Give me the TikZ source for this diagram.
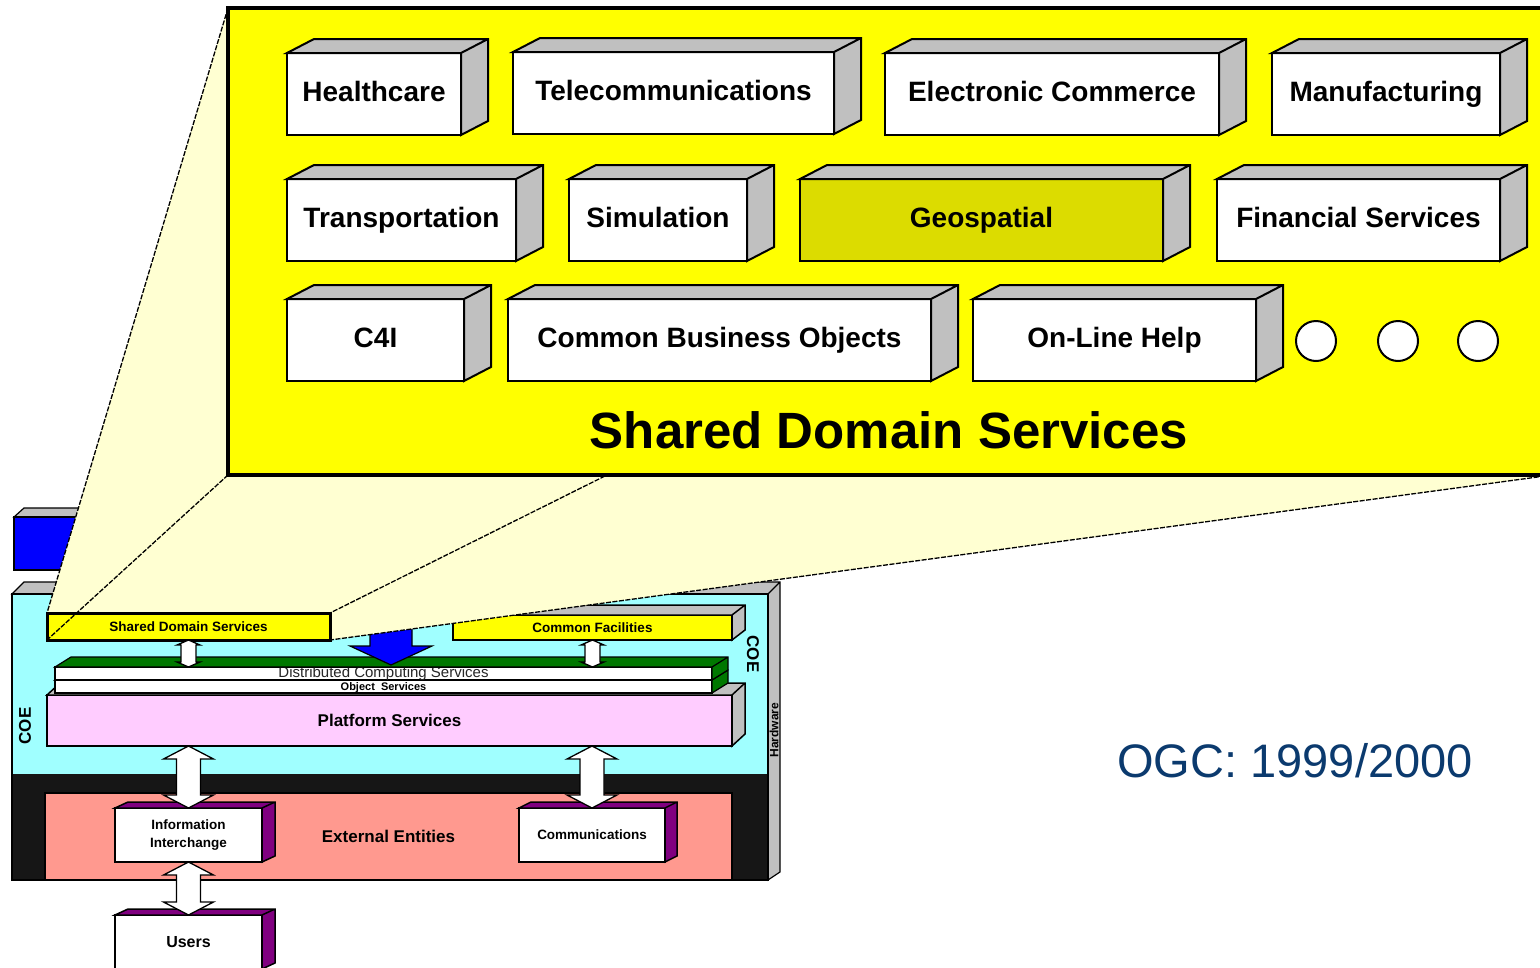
\documentclass[tikz,border=0pt]{standalone}
\usepackage{fontspec}
\setmainfont{Liberation Sans}
\usetikzlibrary{calc}
\definecolor{panel}{HTML}{FFFF00}
\definecolor{zoomfill}{HTML}{FFFFD2}
\definecolor{slabgrey}{HTML}{C0C0C0}
\definecolor{geofill}{HTML}{DCDC00}
\definecolor{coe}{HTML}{A0FFFF}
\definecolor{platform}{HTML}{FFCCFF}
\definecolor{external}{HTML}{FF998F}
\definecolor{hardware}{HTML}{161616}
\definecolor{dcsgreen}{HTML}{007800}
\definecolor{plum}{HTML}{800080}
\definecolor{ogc}{HTML}{0B3A6E}

% top and right faces of a box node: node, depth, colour
\newcommand{\slabfaces}[4][]{\draw[fill=#4,#1] (#2.north west) -- ++(#3) -| ([shift={(#3)}]#2.south east) -- (#2.south east) -- (#2.north east) -- cycle (#2.north east) -- ++(#3);}
% vertical block arrow with a head at each end
\newcommand{\twoway}[5]{\draw[fill=white,line width=1.3pt] (#1) -- ($(#1)+(-#4,#5)$) -- ($(#1)+(-#3,#5)$) -- ($(#2)+(-#3,-#5)$) -- ($(#2)+(-#4,-#5)$) -- (#2) -- ($(#2)+(#4,-#5)$) -- ($(#2)+(#3,-#5)$) -- ($(#1)+(#3,#5)$) -- ($(#1)+(#4,#5)$) -- cycle;}

\begin{document}
\begin{tikzpicture}[x=1pt,y=-1pt,line join=miter,
  tile/.style={draw,fill=white,line width=2pt,minimum height=82,inner sep=0pt,outer sep=0pt,text height=20,text depth=6,font=\fontsize{28}{32}\selectfont\bfseries},
  slab/.style={draw,line width=1.5pt,inner sep=0pt,outer sep=0pt},
  tag/.style={font=\fontsize{#1}{18}\selectfont\bfseries},
  zoomline/.style={line width=1.3pt,dash pattern=on 5pt off 1.5pt}]
\clip (0,0) rectangle (1540,967);

% blue slab behind the zoom cone
\draw[fill=slabgrey,line width=1.2pt] (14,517) -- (24,508) -- (120,508) -- (120,517) -- cycle;
\draw[fill=blue,line width=1.2pt] (14,517) rectangle (120,570);

% COE cabinet with hardware side
\draw[fill=slabgrey,line width=1.2pt] (12,594) -- (24,582) -- (780,582) -- (780,872) -- (768,880) -- (768,594) -- cycle (768,594) -- (780,582);
\fill[coe] (12,594) rectangle (768,774);
\fill[hardware] (12,774) rectangle (768,880);
\draw[line width=1.2pt] (12,594) rectangle (768,880);
\node[tag=17,rotate=90] (coeL) at (25,726) {COE};
\node[tag=17,rotate=-90] (coeR) at (753,654) {COE};
\node[tag=12,rotate=90] (hw) at (774,730) {Hardware};

% external entities
\node[slab,fill=external,minimum width=687,minimum height=87,tag=17] (ext) at (388.5,836.5) {External Entities};
\node[slab,fill=white,minimum width=147,minimum height=54,tag=13.5,align=center] (info) at (188.5,835) {Information\\Interchange};
\slabfaces[line width=1.5pt]{info}{13,-6}{plum}
\node[slab,fill=white,minimum width=146,minimum height=54,tag=13.5] (comm) at (592,835) {Communications};
\slabfaces[line width=1.5pt]{comm}{12,-6}{plum}
\node[slab,fill=white,minimum width=147,minimum height=54,tag=16] (users) at (188.5,942) {Users};
\slabfaces[line width=1.5pt]{users}{13,-6}{plum}

% platform, object and distributed computing layers
\node[slab,fill=platform,minimum width=685,minimum height=51,tag=17] (plat) at (389.5,720.5) {Platform Services};
\slabfaces[line width=1.5pt]{plat}{13,-12}{slabgrey}
\node[slab,fill=white,minimum width=657,minimum height=13,text height=8,text depth=1,tag=11] (obj) at (383.5,686.5) {Object\ \ Services};
\slabfaces[line width=1.2pt]{obj}{16,-10}{dcsgreen}
\node[slab,fill=white,minimum width=657,minimum height=13,text height=9.5,text depth=1.5,font=\fontsize{15}{15}\selectfont,text=black!85] (dcs) at (383.5,673.5) {Distributed Computing Services};
\slabfaces[line width=1.2pt]{dcs}{16,-10}{dcsgreen}

% common facilities
\node[slab,fill=panel,minimum width=279,minimum height=25,tag=13.5] (cf) at (592.5,627.5) {Common Facilities};
\slabfaces[line width=1.5pt]{cf}{13,-10}{slabgrey}

% blue arrow coming down from the zoom
\draw[fill=blue,line width=1.2pt] (370,600) -- (370,646) -- (350,646) -- (391,665) -- (432,646) -- (412,646) -- (412,600);

% two-way arrows
\coordinate (pi) at (plat.south -| info.north);
\coordinate (pc) at (plat.south -| comm.north);
\twoway{pi}{info.north}{12}{25}{13}
\twoway{pc}{comm.north}{12}{25}{13}
\twoway{info.south}{users.north}{12}{25}{13}

% zoom cone
\fill[zoomfill] (228,8) -- (47,613) -- (47,640) -- (330,640) -- (1545,476) -- (1545,8) -- cycle;
\node[draw,fill=panel,line width=3pt,minimum width=283,minimum height=27,inner sep=0pt,outer sep=0pt,tag=13.5] (sdsmini) at (188.5,626.5) {Shared Domain Services};
\coordinate (ds) at (dcs.north -| sdsmini.south);
\coordinate (dc) at (dcs.north -| cf.south);
\twoway{sdsmini.south}{ds}{7.5}{11.5}{5}
\twoway{cf.south}{dc}{7.5}{11.5}{5}
\coordinate (pnw) at (228,8);
\coordinate (psw) at (228,475);
\draw[zoomline] (pnw) -- (sdsmini.north west) (psw) -- (sdsmini.south west) (605,476) -- (sdsmini.north east) (1545,476) -- (sdsmini.south east);

% shared domain services panel
\fill[panel] (pnw) rectangle (1545,475);
\draw[line width=4pt] (1545,8) -- (pnw) -- (psw) -- (1545,475);
\foreach \name/\cx/\cy/\bw/\col/\txt in {
  hc/374/94/174/white/Healthcare,
  tc/673.5/93/321/white/Telecommunications,
  ec/1052/94/334/white/Electronic Commerce,
  mf/1386/94/228/white/Manufacturing,
  tr/401.5/220/229/white/Transportation,
  sim/658/220/178/white/Simulation,
  geo/981.5/220/363/geofill/Geospatial,
  fin/1358.5/220/283/white/Financial Services,
  cfi/375.5/340/177/white/C4I,
  cbo/719.5/340/423/white/Common Business Objects,
  olh/1114.5/340/283/white/On-Line Help}
{\node[tile,fill=\col,minimum width=\bw] (\name) at (\cx,\cy) {\txt};
 \slabfaces[line width=2pt]{\name}{27,-14}{slabgrey}}
\foreach \i/\cx in {1/1316,2/1398,3/1478}
  \node[draw,fill=white,circle,line width=2pt,minimum size=40] (more\i) at (\cx,341) {};
\node[font=\fontsize{51}{56}\selectfont\bfseries] (sdstitle) at (889,430) {Shared Domain Services};

\node[font=\fontsize{47}{50}\selectfont,text=ogc] (ogc) at (1295,761) {OGC: 1999/2000};
\end{tikzpicture}
\end{document}
